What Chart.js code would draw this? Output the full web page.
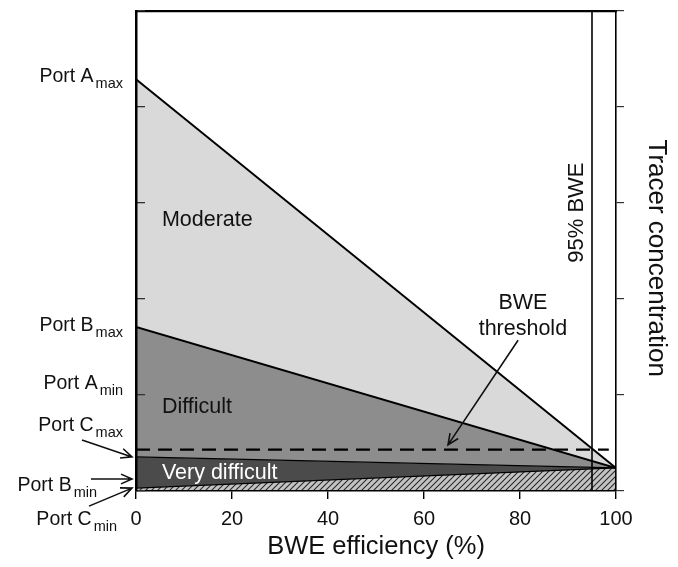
<!DOCTYPE html>
<html lang="en">
<head>
<meta charset="UTF-8">
<title>BWE efficiency</title>
<script src="https://cdn.jsdelivr.net/npm/chart.js"></script>
<style>
  body { margin: 0; background: #fff; }
  canvas { display: block; }
</style>
</head>
<body>
<canvas id="chartCanvas" width="678" height="567"></canvas>
<script>
// BWE efficiency (%) at both ends of each boundary line
const bweEff = [0, 100];
// tracer concentration (arbitrary units) along each boundary
const portAmaxLine = [4.29, 0.24];
const portBmaxLine = [1.71, 0.24];
const veryDiffTop = [0.355, 0.24];
const veryDiffBottom = [0.03, 0.24];
// BWE threshold (dashed) and the 95% BWE line
const thresholdEff = [0, 98.5];
const thresholdLevel = [0.43, 0.43];
const bwe95Eff = [95, 95];
const bwe95Level = [0, 5];
const xTicks = [0, 20, 40, 60, 80, 100];
// port labels on the left side
const portNames = ['Port A', 'Port B', 'Port A', 'Port C', 'Port B', 'Port C'];
const portSubs = ['max', 'max', 'min', 'max', 'min', 'min'];
const portLevels = [4.29, 1.71, 1.10, 0.355, 0.125, 0.03];
const zoneNames = ['Moderate', 'Difficult', 'Very difficult'];

const FONT = '"Liberation Sans", Arial, Helvetica, sans-serif';
Chart.defaults.font.family = FONT;
Chart.defaults.color = '#111';

const pts = (xs, ys) => xs.map((v, i) => ({ x: v, y: ys[i] }));

const canvas = document.getElementById('chartCanvas');
const ctx = canvas.getContext('2d');

// hatch for the bottom band
function makeHatch() {
  const c = document.createElement('canvas');
  c.width = 6; c.height = 6;
  const g = c.getContext('2d');
  g.fillStyle = '#c4c4c4';
  g.fillRect(0, 0, 6, 6);
  g.strokeStyle = '#2a2a2a';
  g.lineWidth = 1.1;
  g.beginPath();
  g.moveTo(-1, 7); g.lineTo(7, -1);
  g.moveTo(-1, 1); g.lineTo(1, -1);
  g.moveTo(5, 7); g.lineTo(7, 5);
  g.stroke();
  return ctx.createPattern(c, 'repeat');
}

function arrow(c, x1, y1, x2, y2) {
  const a = Math.atan2(y2 - y1, x2 - x1);
  const L = 12, h = 0.42;
  c.beginPath();
  c.moveTo(x1, y1); c.lineTo(x2, y2);
  c.moveTo(x2 - L * Math.cos(a - h), y2 - L * Math.sin(a - h));
  c.lineTo(x2, y2);
  c.lineTo(x2 - L * Math.cos(a + h), y2 - L * Math.sin(a + h));
  c.stroke();
}

const annotations = {
  id: 'annotations',
  afterDraw(chart) {
    const { ctx, chartArea, scales: { x, y } } = chart;
    ctx.save();
    ctx.textBaseline = 'alphabetic';

    // zone names
    const zoneAt = [[5.4, 2.76], [5.4, 0.81], [5.4, 0.125]];
    ctx.font = '21.5px ' + FONT;
    ctx.textAlign = 'left';
    zoneNames.forEach((n, i) => {
      ctx.fillStyle = i === 2 ? '#fff' : '#111';
      ctx.fillText(n, x.getPixelForValue(zoneAt[i][0]), y.getPixelForValue(zoneAt[i][1]));
    });

    // BWE threshold label + arrow
    ctx.fillStyle = '#111';
    ctx.textAlign = 'center';
    ctx.fillText('BWE', x.getPixelForValue(80.6), y.getPixelForValue(1.896));
    ctx.fillText('threshold', x.getPixelForValue(80.6), y.getPixelForValue(1.625));
    ctx.strokeStyle = '#111';
    ctx.lineWidth = 1.6;
    arrow(ctx, x.getPixelForValue(79.6), y.getPixelForValue(1.57),
               x.getPixelForValue(65), y.getPixelForValue(0.48));

    // 95% BWE, rotated
    ctx.save();
    ctx.translate(x.getPixelForValue(95) - 9, y.getPixelForValue(2.9));
    ctx.rotate(-Math.PI / 2);
    ctx.font = '22px ' + FONT;
    ctx.textAlign = 'center';
    ctx.fillText('95% BWE', 0, 0);
    ctx.restore();

    // port labels
    const layout = [
      { right: 123, dy: 3 },
      { right: 123, dy: 4 },
      { right: 123, dy: 4 },
      { right: 123, dy: -26, from: [-50, -17] },
      { right: 97, dy: 12, from: [-41, 0] },
      { right: 117, dy: 37, from: [-43, 18] }
    ];
    const tipX = chartArea.left - 4;
    portNames.forEach((n, i) => {
      const lv = y.getPixelForValue(portLevels[i]);
      const L = layout[i];
      const base = lv + L.dy;
      ctx.textAlign = 'right';
      ctx.font = '14.5px ' + FONT;
      const sw = ctx.measureText(portSubs[i]).width;
      ctx.fillText(portSubs[i], L.right, base + 6);
      ctx.font = '19.5px ' + FONT;
      ctx.fillText(n, L.right - sw - 2, base);
      if (L.from) {
        arrow(ctx, tipX + L.from[0], lv + L.from[1], tipX, lv);
      }
    });
    ctx.restore();
  }
};

const lineBase = { pointRadius: 0, borderColor: '#000', tension: 0 };

new Chart(ctx, {
  type: 'line',
  data: {
    datasets: [
      { ...lineBase, label: 'BWE threshold', data: pts(thresholdEff, thresholdLevel),
        borderWidth: 2.2, borderDash: [14, 8], fill: false },
      { ...lineBase, label: '95% BWE', data: pts(bwe95Eff, bwe95Level),
        borderWidth: 1.6, fill: false },
      { ...lineBase, label: 'Moderate', data: pts(bweEff, portAmaxLine),
        borderWidth: 2, fill: '+1', backgroundColor: '#d9d9d9' },
      { ...lineBase, label: 'Difficult', data: pts(bweEff, portBmaxLine),
        borderWidth: 2, fill: '+1', backgroundColor: '#8d8d8d' },
      { ...lineBase, label: 'Very difficult', data: pts(bweEff, veryDiffTop),
        borderWidth: 1.3, fill: '+1', backgroundColor: '#4b4b4b' },
      { ...lineBase, label: 'Hatched', data: pts(bweEff, veryDiffBottom),
        borderWidth: 1.3, fill: 'origin', backgroundColor: makeHatch() }
    ]
  },
  options: {
    responsive: false,
    animation: false,
    devicePixelRatio: 1,
    layout: { padding: { top: 11, left: 0, right: 0, bottom: 0 } },
    plugins: {
      legend: { display: false },
      tooltip: { enabled: false },
      filler: { drawTime: 'beforeDatasetsDraw' }
    },
    scales: {
      x: {
        type: 'linear', position: 'bottom', min: 0, max: 100,
        afterBuildTicks: s => { s.ticks = xTicks.map(v => ({ value: v })); },
        afterFit: s => { s.height = 76; },
        ticks: { font: { size: 20 }, color: '#111', padding: 8 },
        grid: { drawOnChartArea: false, tickLength: 8, color: '#000', lineWidth: 1.4, z: 1 },
        border: { display: true, color: '#000', width: 1.5, z: 1 },
        title: { display: true, text: 'BWE efficiency (%)', font: { size: 25.5 }, color: '#111',
                 padding: { top: 0, bottom: 5 } }
      },
      x2: {
        type: 'linear', position: 'top', min: 0, max: 100,
        afterFit: s => { s.height = 0; },
        ticks: { display: false },
        grid: { drawOnChartArea: false, drawTicks: false },
        border: { display: true, color: '#000', width: 2.2, z: 1 }
      },
      y: {
        type: 'linear', position: 'left', min: 0, max: 5,
        afterFit: s => { s.width = 136; },
        ticks: { display: false, stepSize: 1 },
        grid: { drawOnChartArea: false, tickLength: -9, color: '#333', lineWidth: 1.3, z: 1 },
        border: { display: true, color: '#000', width: 2.5, z: 1 }
      },
      y2: {
        type: 'linear', position: 'right', min: 0, max: 5,
        afterFit: s => { s.width = 62; },
        ticks: { display: false, stepSize: 1 },
        grid: { drawOnChartArea: false, tickLength: 8, color: '#333', lineWidth: 1.2, z: 1 },
        border: { display: true, color: '#000', width: 1.6, z: 1 },
        title: { display: true, text: '\u00a0\u00a0Tracer concentration', font: { size: 26 }, color: '#111',
                 padding: { top: 6, bottom: 0 } }
      }
    }
  },
  plugins: [annotations]
});
</script>
</body>
</html>
